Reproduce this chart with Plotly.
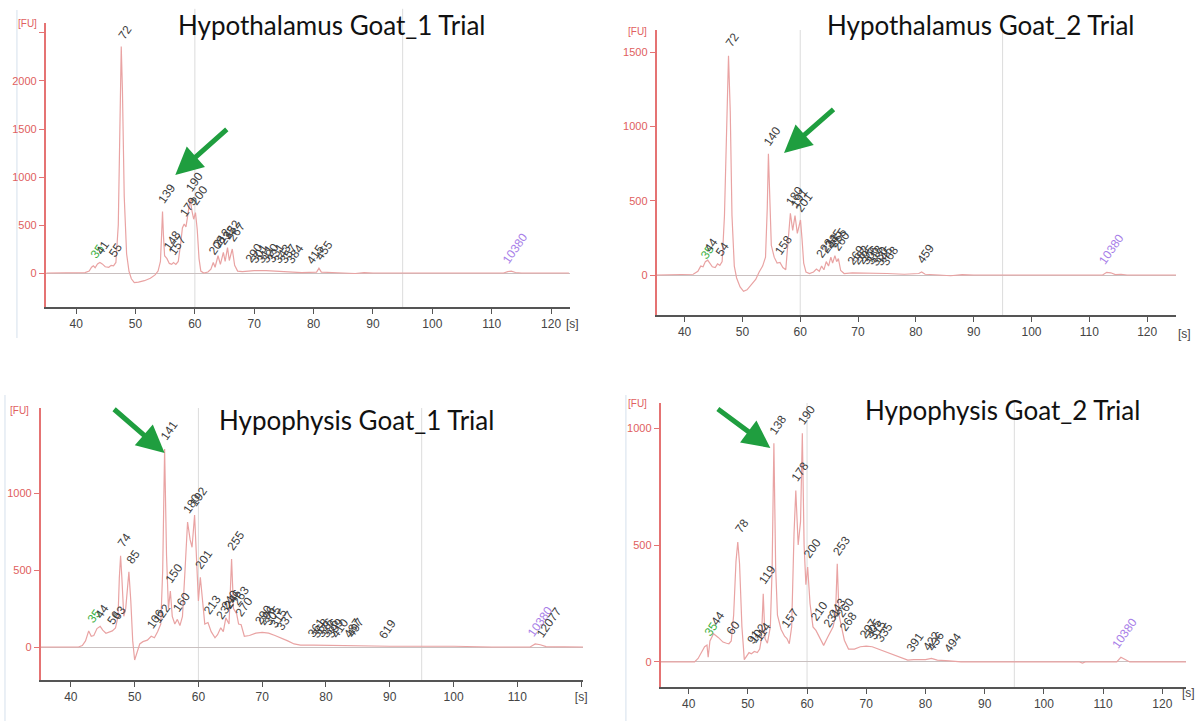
import plotly.graph_objects as go

W, H = 1203, 721

# ---------------- data ----------------
# Panel 1: Hypothalamus Goat_1
p1_time = [35.0, 40.8, 41.5, 42.2, 42.6, 42.9, 43.2, 43.6, 44.0, 44.4, 44.9, 45.5, 45.9, 46.3, 46.7, 47.1, 47.4, 47.6, 47.8, 48.1,
           48.5, 48.9, 49.3, 49.8, 50.5, 51.5, 52.5, 53.3, 53.8, 54.2, 54.4, 54.55, 54.7, 54.9, 55.3, 55.7, 56.1, 56.4, 56.8, 57.2,
           57.6, 57.9, 58.2, 58.5, 58.8, 59.2, 59.5, 59.8, 60.1, 60.4, 60.7, 61.0, 61.5, 62.2, 62.7, 63.1, 63.4, 63.9, 64.3, 64.8,
           65.1, 65.5, 65.8, 66.3, 66.7, 67.2, 68, 70, 72, 74, 76, 78, 80.5, 80.9, 81.3, 82.5, 85, 87, 88.5, 90, 112, 112.7, 113.3,
           114, 115, 123]
p1_fu = [0, 0, 5, 20, 60, 75, 55, 95, 110, 95, 65, 60, 80, 75, 110, 500, 1800, 2360, 1900, 800,
         200, 20, -60, -100, -95, -80, -55, -20, 20, 120, 400, 640, 400, 180, 150, 100, 90, 110, 90, 120,
         300, 470, 510, 480, 600, 770, 650, 560, 630, 450, 150, 20, 0, 10, 40, 110, 60, 180, 90, 215,
         120, 265, 130, 250, 80, 20, 15, 25, 25, 20, 10, 5, 10, 50, 10, 5, 0, -5, 5, 0, 0, 15, 20,
         5, 0, 0]
p1_lab_text = ["35", "41", "55", "72", "139", "148", "157", "179", "190", "200", "208", "212", "232", "252", "267",
               "290", "301", "311", "320", "331", "343", "357", "384", "415", "455", "10380"]
p1_lab_time = [42.9, 43.9, 46.0, 47.6, 54.55, 55.4, 56.4, 58.2, 59.2, 60.1, 63.1, 63.9, 64.8, 65.5, 66.3,
               69.3, 70.2, 71.1, 72.0, 73.0, 74.0, 75.0, 76.2, 79.5, 81.0, 113.3]
p1_lab_fu = [80, 115, 85, 2360, 645, 160, 115, 515, 775, 635, 115, 185, 220, 270, 255,
             30, 30, 30, 30, 30, 25, 25, 20, 15, 55, 25]

# Panel 2: Hypothalamus Goat_2
p2_time = [35.2, 40.5, 41.5, 42.3, 42.8, 43.2, 43.6, 44.0, 44.4, 44.8, 45.3, 45.7, 46.1, 46.5, 46.9, 47.3, 47.6, 47.9, 48.2,
           48.6, 49.0, 49.6, 50.2, 50.8, 51.5, 52.3, 52.9, 53.5, 54.0, 54.3, 54.5, 54.7, 55.0, 55.5, 56.0, 56.5, 57.0, 57.5,
           57.9, 58.3, 58.7, 59.1, 59.5, 60.05, 60.3, 60.6, 61.0, 61.6, 62.3, 62.8, 63.3, 63.7, 64.1, 64.5, 64.9, 65.3, 65.6,
           66.0, 66.3, 66.6, 67.0, 67.6, 69, 72, 75, 78, 80.5, 81, 81.6, 84, 86, 88, 90, 112.3, 113, 113.7, 114.5, 115.5,
           116.5, 125]
p2_fu = [0, 0, 5, 25, 60, 55, 90, 100, 80, 55, 50, 75, 65, 90, 400, 1100, 1475, 1100, 400,
         60, -20, -80, -110, -100, -70, -30, 20, 60, 120, 450, 815, 500, 200, 120, 80, 85, 50, 35,
         200, 415, 300, 400, 280, 370, 250, 80, 20, 10, 20, 40, 25, 60, 35, 90, 60, 120, 80,
         130, 90, 110, 30, 10, 15, 15, 10, 5, 10, 20, 5, 0, -5, 3, 0, 0, 18, 15, 3, 5,
         0, 0]
p2_lab_text = ["35", "44", "54", "72", "140", "158", "180", "191", "201", "223", "233", "245", "255", "260",
               "269", "282", "295", "306", "318", "330", "345", "368", "459", "10380"]
p2_lab_time = [43.2, 43.9, 45.8, 47.6, 54.5, 56.4, 58.3, 59.1, 60.05, 63.6, 64.4, 65.1, 65.8, 66.4,
               69.0, 69.8, 70.6, 71.4, 72.2, 73.0, 73.8, 74.8, 81.0, 113.1]
p2_lab_fu = [60, 105, 80, 1480, 820, 90, 420, 405, 375, 65, 95, 125, 135, 115,
             20, 20, 20, 20, 18, 15, 15, 12, 25, 25]

# Panel 3: Hypophysis Goat_1
p3_time = [35.3, 41.2, 41.8, 42.3, 42.8, 43.2, 43.6, 44.1, 44.6, 45.0, 45.5, 46.0, 46.5, 47.0, 47.4, 47.6, 47.8, 48.0, 48.3,
           48.6, 48.9, 49.1, 49.4, 49.7, 50.0, 50.3, 50.8, 51.3, 52.0, 52.6, 53.1, 53.6, 54.1, 54.4, 54.7, 55.0, 55.3, 55.6,
           55.9, 56.3, 56.7, 57.1, 57.5, 57.9, 58.3, 58.7, 59.0, 59.4, 59.8, 60.0, 60.3, 60.6, 61.0, 61.5, 62.0, 62.6, 63.0,
           63.5, 63.9, 64.3, 64.8, 65.2, 65.5, 66.0, 66.3, 66.7, 67.2, 68, 69, 70, 71, 72, 73, 74, 75, 76, 78, 80, 82, 84,
           86, 90, 100, 106, 112, 112.8, 113.6, 114.5, 120.3]
p3_fu = [0, 0, 10, 40, 105, 70, 75, 120, 135, 110, 90, 95, 105, 125, 200, 450, 595, 450, 200,
         250, 430, 490, 300, 40, -85, -40, 20, 35, 45, 70, 60, 100, 150, 500, 1290, 600, 250, 365,
         200, 150, 180, 140, 200, 500, 815, 700, 650, 860, 500, 300, 455, 320, 150, 160, 100, 60, 80,
         125, 100, 190, 150, 573, 250, 215, 150, 145, 70, 75, 90, 95, 90, 75, 60, 40, 20, 12, 12, 10, 10, 8,
         5, 5, 5, 0, 0, 20, 15, 3, 0]
p3_lab_text = ["35", "44", "56", "63", "74", "85", "106", "122", "141", "150", "160", "180", "192", "201", "213",
               "232", "240", "246", "255", "263", "270", "290", "296", "305", "315", "337",
               "361", "368", "376", "386", "399", "410", "487", "497", "619", "10380", "12077"]
p3_lab_time = [43.0, 44.3, 46.2, 46.9, 47.8, 49.1, 52.6, 53.6, 54.7, 55.6, 56.7, 58.3, 59.4, 60.3, 61.5,
               63.5, 64.3, 64.8, 65.2, 66.0, 66.5, 69.6, 70.2, 71.0, 71.9, 72.9,
               77.8, 78.5, 79.2, 80.0, 80.8, 81.6, 83.6, 84.0, 89.0, 113.0, 114.4]
p3_lab_fu = [110, 140, 100, 130, 600, 495, 75, 105, 1300, 370, 185, 820, 865, 460, 165,
             130, 195, 200, 580, 220, 150, 95, 95, 90, 80, 60,
             15, 15, 15, 12, 12, 10, 10, 10, 8, 22, 15]

# Panel 4: Hypophysis Goat_2
p4_time = [35.3, 41.0, 41.6, 42.2, 42.7, 43.1, 43.3, 43.6, 44.2, 45.0, 45.8, 46.4, 46.8, 47.2, 47.6, 48.0, 48.3, 48.6, 49.0,
           49.4, 49.7, 50.2, 50.6, 51.1, 51.6, 52.0, 52.3, 52.6, 52.9, 53.3, 53.8, 54.1, 54.4, 54.7, 55.0, 55.6, 56.2, 56.6,
           57.0, 57.4, 57.8, 58.1, 58.5, 58.9, 59.2, 59.5, 59.8, 60.1, 60.5, 61.0, 61.5, 62.2, 62.8, 63.5, 64.0, 64.4, 64.8,
           65.1, 65.4, 65.8, 66.3, 67.0, 68, 69, 70, 71, 72, 73, 74, 75, 76, 77, 78, 80, 81, 82, 84, 86, 106, 106.5, 107,
           112.3, 113, 113.8, 114.5, 124]
p4_fu = [0, 0, 15, 40, 65, 72, 20, 90, 121, 105, 85, 80, 78, 90, 200, 430, 513, 420, 150,
         10, 20, 40, 35, 45, 40, 55, 100, 292, 100, 80, 150, 400, 935, 400, 200, 140, 110, 100,
         78, 150, 550, 733, 500, 600, 978, 500, 330, 406, 250, 150, 135, 100, 71, 107, 130, 150, 200,
         420, 200, 150, 93, 55, 55, 65, 68, 65, 55, 45, 35, 25, 15, 8, 10, 10, 15, 8, 5, 0, 0, -5, 0,
         0, 20, 10, 0, 0]
p4_lab_text = ["35", "44", "60", "78", "91", "102", "114", "119", "138", "157", "178", "190", "200", "210",
               "231", "243", "253", "260", "268", "297", "305", "315", "335", "391", "422", "436", "494", "10380"]
p4_lab_time = [43.1, 44.3, 46.8, 48.3, 50.3, 51.1, 51.8, 52.6, 54.4, 56.5, 58.1, 59.2, 60.1, 61.4,
               63.5, 64.4, 65.1, 65.7, 66.2, 69.6, 70.4, 71.2, 72.4, 77.6, 80.4, 81.1, 83.9, 113.0]
p4_lab_fu = [80, 125, 85, 520, 45, 50, 58, 300, 940, 115, 740, 985, 412, 145,
             115, 160, 425, 160, 100, 70, 70, 66, 55, 12, 15, 15, 8, 25]

titles = ["Hypothalamus Goat_1 Trial", "Hypothalamus Goat_2 Trial",
          "Hypophysis Goat_1 Trial", "Hypophysis Goat_2 Trial"]
x_ticks = [40, 50, 60, 70, 80, 90, 100, 110, 120]

# ---------------- layout helpers ----------------
def px_x(p):
    return p / W

def px_y(p):
    return 1 - p / H

panels = [
    dict(t=p1_time, f=p1_fu, lt=p1_lab_text, lx=p1_lab_time, ly=p1_lab_fu,
         xpx=(46, 572), ypx=(23, 307), xr=(34.9, 123.2), yr=(-354, 2604), yt=[0, 500, 1000, 1500, 2000, 2500],
         title_px=(333, 25), fu_px=(28, 24), s_px=(566, 324), s_tick=False,
         arrow=(56.7, 1020, 53, -47), grid_top=1.05, frame=(17, 10, 338)),
    dict(t=p2_time, f=p2_fu, lt=p2_lab_text, lx=p2_lab_time, ly=p2_lab_fu,
         xpx=(659, 1180), ypx=(30, 315), xr=(35.2, 125.0), yr=(-269, 1648), yt=[0, 500, 1000, 1500],
         title_px=(984, 25), fu_px=(640, 32), s_px=(1180, 334), s_tick=False,
         arrow=(57.2, 821, 51, -45), grid_top=1.0, frame=None),
    dict(t=p3_time, f=p3_fu, lt=p3_lab_text, lx=p3_lab_time, ly=p3_lab_fu,
         xpx=(41, 585), ypx=(408, 680), xr=(35.3, 120.3), yr=(-215, 1558), yt=[0, 500, 1000],
         title_px=(358, 420), fu_px=(20, 410), s_px=None, s_tick=True,
         arrow=(54.7, 1265, -52, -45), grid_top=1.0, frame=(5, 395, 721)),
    dict(t=p4_time, f=p4_fu, lt=p4_lab_text, lx=p4_lab_time, ly=p4_lab_fu,
         xpx=(663, 1190), ypx=(403, 687), xr=(35.3, 124.0), yr=(-107, 1107), yt=[0, 500, 1000],
         title_px=(1006, 410), fu_px=(640, 403), s_px=(1184, 693), s_tick=False,
         arrow=(53.8, 915, -54, -40), grid_top=1.0, frame=(628, 395, 721)),
]

TRACE_COL = "#e9a3a3"
AXIS_RED = "#e57373"
LABEL_COL = "#3c3c3c"
GREEN_LAB = "#3cb043"
PURPLE_LAB = "#a77ee8"
ARROW_COL = "#1f9e3f"

fig = go.Figure()
annotations = []
shapes = []
layout = dict(width=W, height=H, margin=dict(l=0, r=0, t=0, b=0),
              paper_bgcolor="white", plot_bgcolor="white", showlegend=False)

for i, p in enumerate(panels, start=1):
    xa = "x" if i == 1 else f"x{i}"
    ya = "y" if i == 1 else f"y{i}"
    xkey = "xaxis" if i == 1 else f"xaxis{i}"
    ykey = "yaxis" if i == 1 else f"yaxis{i}"
    xdom = [px_x(p["xpx"][0]), px_x(p["xpx"][1])]
    ydom = [px_y(p["ypx"][1]), px_y(p["ypx"][0])]

    ticktext = [str(v) for v in x_ticks]
    if p["s_tick"]:
        ticktext[-1] = "[s]"
    layout[xkey] = dict(domain=xdom, anchor=ya, range=list(p["xr"]), tickvals=x_ticks, ticktext=ticktext,
                        showline=True, linecolor="#555555", linewidth=2, ticks="outside", ticklen=5,
                        tickcolor="#555555", tickwidth=1, showgrid=False, zeroline=False,
                        tickfont=dict(family="Liberation Sans", size=12, color="#444444"))
    layout[ykey] = dict(domain=ydom, anchor=xa, range=list(p["yr"]), tickvals=p["yt"],
                        ticktext=[("" if v == 2500 else str(v)) for v in p["yt"]],
                        showline=True, linecolor=AXIS_RED, linewidth=2, ticks="outside", ticklen=5,
                        tickcolor=AXIS_RED, tickwidth=1, showgrid=False,
                        zeroline=True, zerolinecolor="#c9c0c0", zerolinewidth=1,
                        tickfont=dict(family="Liberation Sans", size=11, color="#e06060"))

    # vertical reference lines at 60 s and 95 s
    for gx in (60, 95):
        shapes.append(dict(type="line", xref=xa, yref=f"{ya} domain", x0=gx, x1=gx, y0=0, y1=p["grid_top"],
                           line=dict(color="#dcdcdc", width=1), layer="below"))
    # faint outer frame line of the instrument window
    if p["frame"] is not None:
        fx, fy0, fy1 = p["frame"]
        shapes.append(dict(type="line", xref="paper", yref="paper", x0=px_x(fx), x1=px_x(fx),
                           y0=px_y(fy1), y1=px_y(fy0), line=dict(color="#d5e0ec", width=1), layer="below"))

    fig.add_trace(go.Scatter(x=p["t"], y=p["f"], mode="lines", xaxis=xa, yaxis=ya,
                             line=dict(color=TRACE_COL, width=1.2), hoverinfo="skip"))

    # rotated peak labels
    for txt, lx, ly in zip(p["lt"], p["lx"], p["ly"]):
        col = LABEL_COL
        if txt == "35":
            col = GREEN_LAB
        elif txt == "10380":
            col = PURPLE_LAB
        annotations.append(dict(text=txt, x=lx, y=ly, xref=xa, yref=ya, showarrow=False,
                                textangle=-55, xanchor="center", yanchor="bottom", yshift=2, xshift=4,
                                font=dict(family="Liberation Sans", size=12, color=col)))

    # title
    annotations.append(dict(text=titles[i - 1], x=px_x(p["title_px"][0]), y=px_y(p["title_px"][1]),
                            xref="paper", yref="paper", showarrow=False, xanchor="center", yanchor="middle",
                            font=dict(family="Lato", size=26, color="#111111")))
    # [FU]
    annotations.append(dict(text="[FU]", x=px_x(p["fu_px"][0]), y=px_y(p["fu_px"][1]), xref="paper", yref="paper",
                            showarrow=False, xanchor="center", yanchor="middle",
                            font=dict(family="Liberation Sans", size=10, color="#e06060")))
    # [s]
    if p["s_px"] is not None:
        annotations.append(dict(text="[s]", x=px_x(p["s_px"][0]), y=px_y(p["s_px"][1]), xref="paper", yref="paper",
                                showarrow=False, xanchor="left", yanchor="middle",
                                font=dict(family="Liberation Sans", size=12, color="#444444")))
    # green arrow
    ax_s, ax_fu, dx, dy = p["arrow"]
    annotations.append(dict(text="", x=ax_s, y=ax_fu, xref=xa, yref=ya, showarrow=True, ax=dx, ay=dy,
                            arrowcolor=ARROW_COL, arrowwidth=5, arrowhead=2, arrowsize=1.1, standoff=0))

layout["annotations"] = annotations
layout["shapes"] = shapes
fig.update_layout(**layout)
fig.write_html("out.html")
